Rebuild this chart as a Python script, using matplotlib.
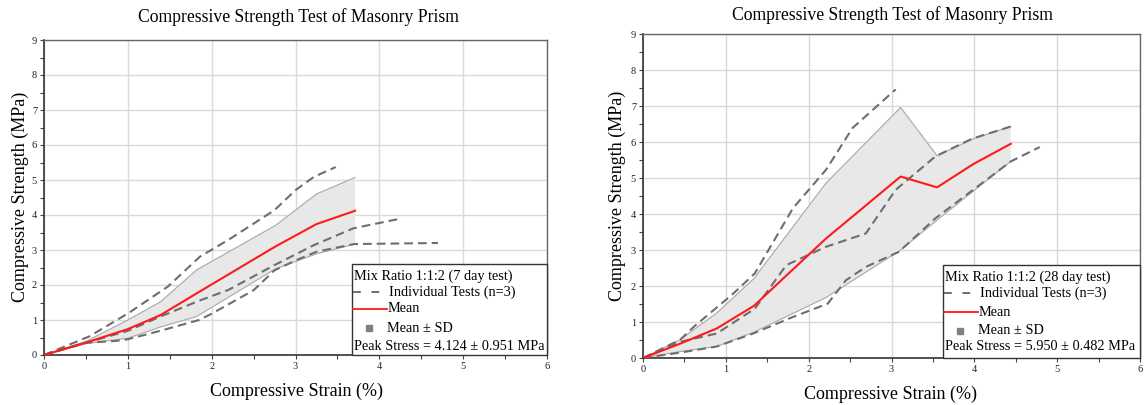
import matplotlib
matplotlib.use("Agg")
import matplotlib.pyplot as plt
from matplotlib.lines import Line2D
from matplotlib.patches import Rectangle
import numpy as np

plt.rcParams['font.family'] = ['Liberation Serif', 'DejaVu Serif']

# ---------------- data: 7 day test (left) ----------------
L_mean_x = [0, 0.51, 1.0, 1.39, 1.82, 2.76, 3.25, 3.71]
L_mean_y = [0, 0.36, 0.74, 1.14, 1.76, 3.10, 3.74, 4.12]
L_upper_y = [0, 0.40, 1.00, 1.52, 2.43, 3.70, 4.60, 5.07]
L_lower_y = [0, 0.33, 0.48, 0.80, 1.10, 2.46, 2.89, 3.17]

L_testA_x = [0, 0.54, 1.01, 1.48, 1.86, 2.2, 2.75, 3.0, 3.22, 3.48]
L_testA_y = [0, 0.53, 1.20, 1.96, 2.81, 3.29, 4.14, 4.71, 5.09, 5.37]
L_testB_x = [0, 0.5, 1.0, 1.39, 1.86, 2.2, 2.75, 3.22, 3.69, 4.26]
L_testB_y = [0, 0.35, 0.69, 1.10, 1.56, 1.86, 2.57, 3.14, 3.62, 3.90]
L_testC_x = [0, 0.5, 0.85, 1.0, 1.4, 1.85, 2.0, 2.5, 2.75, 3.0, 3.25, 3.7, 4.7]
L_testC_y = [0, 0.35, 0.40, 0.45, 0.70, 1.00, 1.18, 1.85, 2.42, 2.70, 2.95, 3.17, 3.20]

# ---------------- data: 28 day test (right) ----------------
R_mean_x = [0, 0.45, 0.89, 1.34, 2.21, 3.11, 3.55, 3.99, 4.44]
R_mean_y = [0, 0.40, 0.82, 1.45, 3.32, 5.04, 4.74, 5.39, 5.95]
R_upper_y = [0, 0.51, 1.25, 2.21, 4.86, 6.96, 5.62, 6.09, 6.43]
R_lower_y = [0, 0.18, 0.32, 0.72, 1.68, 3.00, 3.83, 4.64, 5.46]

R_testA_x = [0, 0.45, 0.61, 1.09, 1.35, 1.81, 2.21, 2.53, 3.05]
R_testA_y = [0, 0.51, 0.86, 1.79, 2.35, 4.16, 5.23, 6.39, 7.46]
R_testB_x = [0, 0.45, 0.89, 1.35, 1.73, 2.21, 2.69, 3.05, 3.53, 3.97, 4.44]
R_testB_y = [0, 0.45, 0.68, 1.37, 2.58, 3.09, 3.46, 4.67, 5.60, 6.09, 6.43]
R_testC_x = [0, 0.45, 0.89, 1.33, 1.81, 2.23, 2.45, 2.69, 3.09, 3.53, 4.44, 4.79]
R_testC_y = [0, 0.15, 0.32, 0.68, 1.14, 1.51, 2.16, 2.53, 2.95, 3.88, 5.46, 5.86]

titles = ["Compressive Strength Test of Masonry Prism",
          "Compressive Strength Test of Masonry Prism"]
legend_titles = ["Mix Ratio 1:1:2 (7 day test)", "Mix Ratio 1:1:2 (28 day test)"]
peak_texts = ["Peak Stress = 4.124 \u00b1 0.951 MPa", "Peak Stress = 5.950 \u00b1 0.482 MPa"]
entry_labels = ["Individual Tests (n=3)", "Mean", "Mean \u00b1 SD"]
xlabel = "Compressive Strain (%)"
ylabel = "Compressive Strength (MPa)"

W, H = 1144, 405
fig = plt.figure(figsize=(W / 100, H / 100), dpi=100)


def fx(px):
    return px / W


def fy(py):
    return 1 - py / H


DASH_COLOR = "#6e6e6e"
DASH = (0, (4.2, 2.4))


def make_axes(box, mean_x, mean_y, up, lo, tests):
    x0, y0, x1, y1 = box
    ax = fig.add_axes([fx(x0), fy(y1), fx(x1) - fx(x0), fy(y0) - fy(y1)])
    ax.fill_between(mean_x, lo, up, facecolor="#e8e8e8", edgecolor="none", zorder=1)
    ax.plot(mean_x, up, color="#a8a8a8", lw=0.8, zorder=2)
    ax.plot(mean_x, lo, color="#a8a8a8", lw=0.8, zorder=2)
    for tx, ty in tests:
        ax.plot(tx, ty, color=DASH_COLOR, lw=1.5, linestyle=DASH, zorder=3)
    ax.plot(mean_x, mean_y, color="#ff1a1a", lw=1.5, zorder=4)
    ax.set_xlim(0, 6)
    ax.set_ylim(0, 9)
    ax.set_xticks(np.arange(0, 7, 1))
    ax.set_yticks(np.arange(0, 10, 1))
    ax.set_xticks(np.arange(0, 6.01, 0.5), minor=True)
    ax.set_yticks(np.arange(0, 9.01, 0.5), minor=True)
    ax.grid(True, which="major", color="#dadada", lw=1.0, zorder=0)
    ax.set_axisbelow(True)
    ax.tick_params(which="both", direction="out", length=3, width=0.8,
                   color="#444444", labelsize=7.5, labelcolor="#222222", pad=2)
    for s in ["left", "bottom"]:
        ax.spines[s].set_color("#333333")
        ax.spines[s].set_linewidth(1.2)
    for s in ["top", "right"]:
        ax.spines[s].set_color("#666666")
        ax.spines[s].set_linewidth(1.0)
    return ax


def draw_legend(ax, box, legend_title, peak_text, rows):
    # box and rows in figure pixels
    bx0, by0, bx1, by1 = box
    tr = fig.transFigure
    rect = Rectangle((fx(bx0), fy(by1)), fx(bx1) - fx(bx0), fy(by0) - fy(by1),
                     transform=tr, facecolor="white", edgecolor="#333333", lw=1.0, zorder=10)
    fig.add_artist(rect)
    fs = 10.3
    r0, r1, r2, r3, r4 = rows
    fig.text(fx(bx0 + 2), fy(r0), legend_title, fontsize=fs, va="center", ha="left", zorder=11)
    # dashed handle
    fig.add_artist(Line2D([fx(bx0 + 1), fx(bx0 + 28)], [fy(r1), fy(r1)], transform=tr,
                          color=DASH_COLOR, lw=1.4, linestyle=(0, (4.0, 5.5)), zorder=11))
    fig.text(fx(bx0 + 37), fy(r1), entry_labels[0], fontsize=fs, va="center", ha="left", zorder=11)
    fig.add_artist(Line2D([fx(bx0 + 1), fx(bx0 + 35)], [fy(r2), fy(r2)], transform=tr,
                          color="#ff1a1a", lw=1.3, zorder=11))
    fig.text(fx(bx0 + 36), fy(r2), entry_labels[1], fontsize=fs, va="center", ha="left", zorder=11)
    fig.add_artist(Line2D([fx(bx0 + 17)], [fy(r3)], transform=tr, marker="s", markersize=5,
                          color="#808080", lw=0, zorder=11))
    fig.text(fx(bx0 + 35), fy(r3), entry_labels[2], fontsize=fs, va="center", ha="left", zorder=11)
    fig.text(fx(bx0 + 2), fy(r4), peak_text, fontsize=fs, va="center", ha="left", zorder=11)


axL = make_axes((44, 40, 547, 355), L_mean_x, L_mean_y, L_upper_y, L_lower_y,
                [(L_testA_x, L_testA_y), (L_testB_x, L_testB_y), (L_testC_x, L_testC_y)])
axR = make_axes((643, 34, 1140, 358), R_mean_x, R_mean_y, R_upper_y, R_lower_y,
                [(R_testA_x, R_testA_y), (R_testB_x, R_testB_y), (R_testC_x, R_testC_y)])

draw_legend(axL, (352, 264, 547, 355), legend_titles[0], peak_texts[0], (276, 292, 309, 328, 346))
draw_legend(axR, (943, 265, 1140, 358), legend_titles[1], peak_texts[1], (277, 293, 312, 331, 347))

fig.text(fx(299), fy(17), titles[0], fontsize=12.7, ha="center", va="center")
fig.text(fx(892), fy(15), titles[1], fontsize=12.7, ha="center", va="center")
fig.text(fx(296), fy(391), xlabel, fontsize=13, ha="center", va="center")
fig.text(fx(890), fy(394), xlabel, fontsize=13, ha="center", va="center")
fig.text(fx(20), fy(197), ylabel, fontsize=13, ha="center", va="center", rotation=90)
fig.text(fx(617), fy(196), ylabel, fontsize=13, ha="center", va="center", rotation=90)

fig.savefig("out.png", dpi=100, facecolor="white")
